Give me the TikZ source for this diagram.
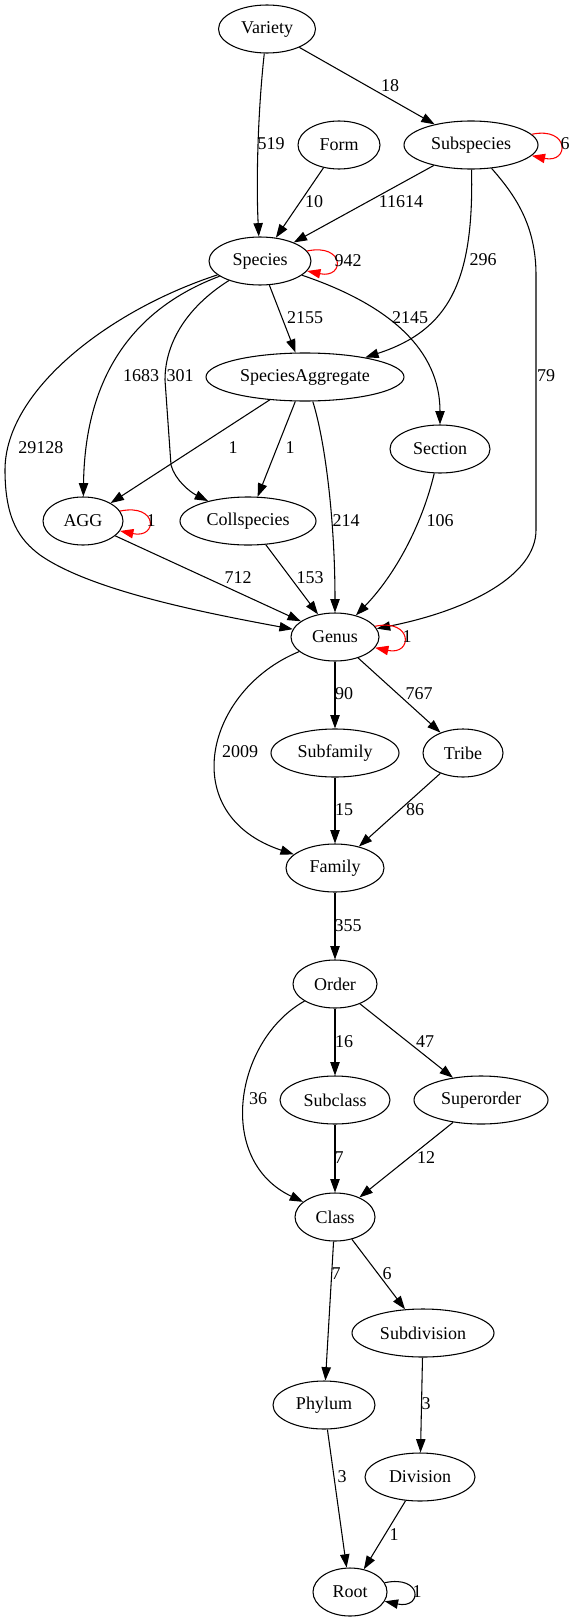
\documentclass[tikz,border=0pt]{standalone}
\usepackage{fontspec}
\setmainfont{Liberation Serif}
\usetikzlibrary{shapes.geometric,arrows.meta}
\begin{document}
\begin{tikzpicture}[x=0.75pt,y=-0.75pt,
  nd/.style={ellipse,draw,line width=0.8pt,minimum height=36pt,inner sep=0pt,font=\fontsize{13.5}{16}\selectfont},
  lbl/.style={inner sep=0pt,font=\fontsize{13.5}{16}\selectfont},
  ed/.style={line width=0.8pt,-{Triangle[length=10pt,width=7pt]}},
  lp/.style={ed,red}]
\useasboundingbox (0,0) rectangle (577,1623);
% nodes
\node[nd,minimum width=72.75pt] (Variety) at (267,29) {Variety};
\node[nd,minimum width=61.5pt] (Form) at (339,145) {Form};
\node[nd,minimum width=100.5pt] (Subspecies) at (471,145) {Subspecies};
\node[nd,minimum width=76.5pt] (Species) at (260,261) {Species};
\node[nd,minimum width=148.5pt] (SA) at (305,377) {SpeciesAggregate};
\node[nd,minimum width=75pt] (Section) at (440,449) {Section};
\node[nd,minimum width=60pt] (AGG) at (83,521) {AGG};
\node[nd,minimum width=102pt] (Coll) at (248,521) {Collspecies};
\node[nd,minimum width=66pt] (Genus) at (335,637) {Genus};
\node[nd,minimum width=96pt] (Subfamily) at (335,753) {Subfamily};
\node[nd,minimum width=60pt] (Tribe) at (463,753) {Tribe};
\node[nd,minimum width=73.5pt] (Family) at (335,868) {Family};
\node[nd,minimum width=63pt] (Order) at (335,984) {Order};
\node[nd,minimum width=82.5pt] (Subclass) at (335,1100) {Subclass};
\node[nd,minimum width=100.5pt] (Superorder) at (481,1100) {Superorder};
\node[nd,minimum width=60pt] (Class) at (335,1217) {Class};
\node[nd,minimum width=106.5pt] (Subdivision) at (423,1333) {Subdivision};
\node[nd,minimum width=76.5pt] (Phylum) at (324,1405) {Phylum};
\node[nd,minimum width=82.5pt] (Division) at (420,1477) {Division};
\node[nd,minimum width=55.5pt] (Root) at (350,1592) {Root};
% edges
\draw[ed] (Variety) .. controls (258,110) and (256,180) .. (Species);
\draw[ed] (Variety) -- (Subspecies);
\draw[ed] (Form) -- (Species);
\draw[ed] (Subspecies) -- (Species);
\draw[lp] (Subspecies.10) .. controls +(38,-8) and +(38,8) .. (Subspecies.-10);
\draw[lp] (Species.12) .. controls +(38,-8) and +(38,8) .. (Species.-12);
\draw[ed] (Subspecies) .. controls (474,280) and (450,330) .. (SA);
\draw[ed] (Subspecies) .. controls (515,195) and (536,225) .. (536,275) -- (536,530) .. controls (536,575) and (470,610) .. (Genus);
\draw[ed] (Species) -- (SA);
\draw[ed] (Species) .. controls (390,305) and (440,350) .. (Section);
\draw[ed] (Species) .. controls (130,310) and (85,380) .. (AGG);
\draw[ed] (Species) .. controls (190,305) and (165,340) .. (165,380) -- (171,465) .. controls (175,480) and (190,492) .. (Coll);
\draw[ed] (Species) .. controls (110,310) and (5,390) .. (5,470) .. controls (5,520) and (20,540) .. (40,555) .. controls (90,590) and (200,612) .. (Genus);
\draw[ed] (SA) -- (AGG);
\draw[ed] (SA) -- (Coll);
\draw[ed] (SA) .. controls (325,440) and (335,520) .. (Genus);
\draw[ed] (Section) .. controls (422,525) and (395,575) .. (Genus);
\draw[lp] (AGG.15) .. controls +(38,-8) and +(38,8) .. (AGG.-15);
\draw[ed] (AGG) -- (Genus);
\draw[ed] (Coll) -- (Genus);
\draw[lp] (Genus.15) .. controls +(38,-8) and +(38,8) .. (Genus.-15);
\draw[ed] (Genus) .. controls (205,690) and (175,815) .. (Family);
\draw[ed] (Genus) -- (Subfamily);
\draw[ed] (Genus) -- (Tribe);
\draw[ed] (Subfamily) -- (Family);
\draw[ed] (Tribe) -- (Family);
\draw[ed] (Family) -- (Order);
\draw[ed] (Order) .. controls (235,1040) and (215,1160) .. (Class);
\draw[ed] (Order) -- (Subclass);
\draw[ed] (Order) -- (Superorder);
\draw[ed] (Subclass) -- (Class);
\draw[ed] (Superorder) -- (Class);
\draw[ed] (Class) -- (Phylum);
\draw[ed] (Class) -- (Subdivision);
\draw[ed] (Subdivision) -- (Division);
\draw[ed] (Phylum) -- (Root);
\draw[ed] (Division) -- (Root);
\draw[ed] (Root.15) .. controls +(38,-8) and +(38,8) .. (Root.-15);
% labels
\node[lbl] (l1) at (271,144) {519};
\node[lbl] (l2) at (390,86) {18};
\node[lbl] (l3) at (314,202) {10};
\node[lbl] (l4) at (401,202) {11614};
\node[lbl] (l5) at (565,144) {6};
\node[lbl] (l6) at (348,261) {942};
\node[lbl] (l7) at (483,260) {296};
\node[lbl] (l8) at (546,376) {79};
\node[lbl] (l9) at (305,318) {2155};
\node[lbl] (l10) at (410,318) {2145};
\node[lbl] (l11) at (141,376) {1683};
\node[lbl] (l12) at (180,376) {301};
\node[lbl] (l13) at (41,448) {29128};
\node[lbl] (l14) at (233,448) {1};
\node[lbl] (l15) at (290,448) {1};
\node[lbl] (l16) at (346,521) {214};
\node[lbl] (l17) at (440,521) {106};
\node[lbl] (l18) at (151,521) {1};
\node[lbl] (l19) at (238,578) {712};
\node[lbl] (l20) at (310,578) {153};
\node[lbl] (l21) at (407,637) {1};
\node[lbl] (l22) at (240,752) {2009};
\node[lbl] (l23) at (344,694) {90};
\node[lbl] (l24) at (419,694) {767};
\node[lbl] (l25) at (344,810) {15};
\node[lbl] (l26) at (415,810) {86};
\node[lbl] (l27) at (348,926) {355};
\node[lbl] (l28) at (258,1099) {36};
\node[lbl] (l29) at (344,1042) {16};
\node[lbl] (l30) at (425,1042) {47};
\node[lbl] (l31) at (339,1158) {7};
\node[lbl] (l32) at (426,1158) {12};
\node[lbl] (l33) at (336,1274) {7};
\node[lbl] (l34) at (387,1274) {6};
\node[lbl] (l35) at (426,1404) {3};
\node[lbl] (l36) at (342,1477) {3};
\node[lbl] (l37) at (394,1535) {1};
\node[lbl] (l38) at (417,1592) {1};
\end{tikzpicture}
\end{document}
